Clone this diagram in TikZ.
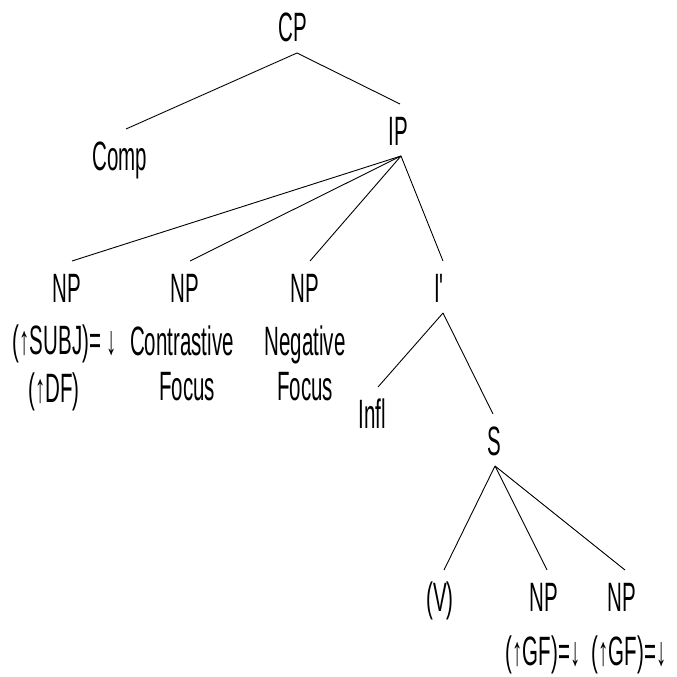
\documentclass[tikz,border=0pt]{standalone}
\usepackage{fontspec}
\newfontfamily\treefont[FakeStretch=0.5]{Liberation Sans}
\begin{document}
\begin{tikzpicture}[x=1pt,y=1pt,
  lab/.style={inner sep=0pt, outer ysep=11pt, outer xsep=0pt, text height=30pt, text depth=0pt, anchor=base, font=\treefont\fontsize{41}{49}\selectfont},
  ann/.style={inner sep=0pt, anchor=base, font=\treefont\fontsize{41}{49}\selectfont},
  edge/.style={line width=0.9pt}]
\useasboundingbox (0,0) rectangle (677,-677);
% tree labels
\node[lab] (cp)   at (293,-42)  {CP};
\node[lab] (comp) at (120,-170) {Comp};
\node[lab] (ip)   at (398,-145) {IP};
\node[lab] (np1)  at (67,-302)  {NP};
\node[lab] (np2)  at (185,-302) {NP};
\node[lab] (np3)  at (305,-302) {NP};
\node[lab] (ibar) at (439,-302) {I'};
\node[lab] (infl) at (372,-428) {Infl};
\node[lab] (s)    at (494,-455) {S};
\node[lab] (v)    at (440,-611) {(V)};
\node[lab] (snp1) at (544,-611) {NP};
\node[lab] (snp2) at (622,-611) {NP};
% annotations
\node[ann] (np1a) at (65,-354)  {(↑SUBJ)= ↓};
\node[ann] (np1b) at (54,-402)  {(↑DF)};
\node[ann] (np2a) at (182,-355) {Contrastive};
\node[ann] (np2b) at (187,-400) {Focus};
\node[ann] (np3a) at (305,-355) {Negative};
\node[ann] (np3b) at (305,-400) {Focus};
\node[ann] (snp1a) at (543,-665) {(↑GF)=↓};
\node[ann] (snp2a) at (629,-665) {(↑GF)=↓};
% connectors
\draw[edge] ([xshift=4pt]cp.south) -- ([xshift=6pt]comp.north);
\draw[edge] ([xshift=4pt]cp.south) -- ([xshift=2pt]ip.north);
\draw[edge] ([xshift=3pt]ip.south) -- ([xshift=5pt]np1.north);
\draw[edge] ([xshift=3pt]ip.south) -- ([xshift=5pt]np2.north);
\draw[edge] ([xshift=3pt]ip.south) -- ([xshift=5pt]np3.north);
\draw[edge] ([xshift=3pt]ip.south) -- ([xshift=4pt]ibar.north);
\draw[edge] ([xshift=4pt]ibar.south) -- ([xshift=6pt]infl.north);
\draw[edge] ([xshift=4pt]ibar.south) -- ([xshift=-1pt]s.north);
\draw[edge] ([xshift=1pt]s.south) -- ([xshift=4pt]v.north);
\draw[edge] ([xshift=1pt]s.south) -- ([xshift=3pt]snp1.north);
\draw[edge] ([xshift=1pt]s.south) -- ([xshift=3pt]snp2.north);
\end{tikzpicture}
\end{document}
